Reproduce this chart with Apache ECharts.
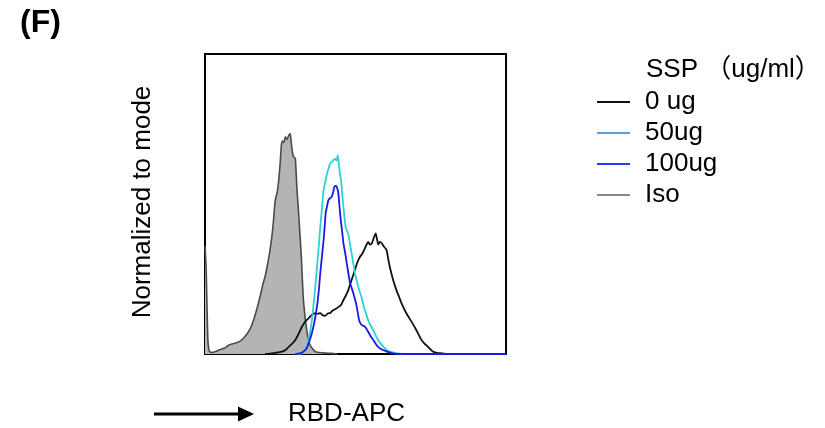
<!DOCTYPE html>
<html>
<head>
<meta charset="utf-8">
<script src="https://cdn.jsdelivr.net/npm/echarts@6/dist/echarts.min.js"></script>
<style>
html,body{margin:0;padding:0;background:#fff;}
#c{width:825px;height:428px;}
</style>
</head>
<body>
<div id="c"></div>
<script>
// ---- data (x: RBD-APC channel 0-100, y: % of mode) ----
const seriesNames = ['0 ug', '50ug', '100ug', 'Iso'];
const legendColors = ['#111111', '#5b9fe0', '#2b3cf2', '#8a8a8a'];
const lineColors = ['#111111', '#2fd0d4', '#1a1ae6', '#4a4a4a'];

const iso = [[0,36],[0.4,28],[0.9,6],[1.4,1],[2.2,0.5],[3.5,0.8],[5,1.5],[6.5,2],[8,3],[10,3.6],[11.5,4.2],[13,5.5],[14.5,7.5],[15.5,9.5],[16.5,12.5],[17.5,16],[18.5,20],[19.3,23.5],[20,26],[20.8,30],[21.5,34],[22.2,39],[22.8,45],[23.3,51],[24,54],[24.5,58],[25,64],[25.4,70],[25.8,71],[26.2,70.5],[26.7,72.4],[27.2,71.5],[27.7,72.6],[28.3,73.5],[28.7,70],[29.1,67],[29.4,65.8],[30,65.2],[30.5,55.8],[31.1,46.9],[32,32.4],[32.7,18],[33.8,8],[34.9,3],[36.6,0.8],[38,0.5],[40,0.3],[42,0.2],[44,0]];

const ug0 = [[20,0],[22.3,0.2],[24,0.5],[25.6,0.8],[27,1.5],[27.8,2.4],[29,3.5],[30,4.7],[31,6.5],[32.2,9.1],[33.3,10.8],[34.4,11.9],[35.5,13],[36.6,13.6],[37.5,13.4],[38.3,13.6],[39.1,12.9],[39.9,12.7],[40.8,13.5],[41.6,13.7],[42.4,14.5],[43.2,14.9],[44.5,15.8],[45.3,16.5],[46,18],[46.8,19.5],[47.6,21.3],[48.7,24.7],[49.8,28],[50.6,30.5],[51.5,32.4],[52.3,33.5],[53.1,35.2],[53.7,36.5],[54.2,37.4],[54.8,36.5],[55.4,36.8],[56.2,39.1],[56.7,40.2],[57.2,38],[57.6,36.5],[58.1,37.4],[58.7,37],[59.3,36],[60.3,34.7],[60.9,31.5],[61.4,29],[62.5,24.7],[63.6,21.3],[64.5,19],[65.3,16.9],[66.9,13.6],[68.6,10.8],[70.2,8],[71.9,4.7],[73,3.4],[74.1,2.4],[75.7,0.8],[77,0.4],[79,0.2],[80,0]];

const ug50 = [[30,0],[32.2,0.2],[33.3,1.5],[34.4,4.7],[35.2,9],[36,15.8],[36.6,22],[37.2,29],[37.8,36],[38.3,42.4],[38.9,49],[39.4,54.7],[40,57.5],[40.5,60],[41.1,62],[41.6,63.6],[42.2,64],[42.7,64.7],[43.3,65],[43.7,64.5],[44.1,66.3],[44.5,63],[44.8,60],[45.2,58],[45.6,53],[46,49],[46.4,45],[46.7,42.4],[47.2,41],[47.6,40],[48.2,36.5],[48.7,33.6],[49.3,30],[49.8,27],[50.4,24.5],[50.9,22.4],[51.5,20.5],[52,19],[52.6,16.5],[53.1,14.7],[53.7,12.8],[54.2,11.3],[55,9.5],[55.9,8],[56.7,6.2],[57.5,4.7],[58.6,3.2],[59.8,1.9],[61,1],[63,0.4],[65,0.1],[66,0],[100,0]];

const ug100 = [[30,0],[31.6,0.2],[32.7,0.8],[33.8,1.9],[34.6,4],[35.5,6.9],[36.4,11],[37.2,15.8],[37.8,21],[38.3,27],[38.9,33],[39.4,38],[39.8,43],[40.1,47],[40.6,49.5],[41,51.3],[41.6,52],[42.1,52.4],[42.6,54],[43,55.8],[43.6,56],[44,55],[44.3,53.6],[44.7,49],[45.1,44.7],[45.6,40.5],[46,36.9],[46.6,33.5],[47.1,30.2],[47.7,26.5],[48.2,23.6],[48.8,21.8],[49.3,20.2],[49.9,18],[50.4,15.8],[50.8,13.5],[51.2,11.3],[51.6,10.3],[52,9.7],[52.6,9.4],[53.1,9.1],[53.7,8.3],[54.2,7.4],[55,6],[55.9,4.7],[56.7,3.4],[57.5,2.4],[58.6,1.6],[59.8,1.1],[61,0.6],[62.5,0.2],[64,0],[100,0]];

const FONT = '"Liberation Sans", Arial, "Noto Sans CJK SC", sans-serif';

const chart = echarts.init(document.getElementById('c'), null, {renderer: 'canvas'});

function lineSeries(name, data, color, extra) {
  return Object.assign({
    name: name,
    type: 'line',
    data: data,
    showSymbol: false,
    symbol: 'none',
    smooth: 0.2,
    clip: true,
    lineStyle: {color: color, width: 1.8},
    itemStyle: {color: color},
    emphasis: {disabled: true},
    animation: false
  }, extra || {});
}

chart.setOption({
  animation: false,
  backgroundColor: '#ffffff',
  grid: {
    left: 205, top: 54, width: 301, height: 300,
    show: true, borderColor: '#000', borderWidth: 2, backgroundColor: 'transparent'
  },
  xAxis: {
    type: 'value', min: 0, max: 100,
    axisLine: {show: false}, axisTick: {show: false},
    axisLabel: {show: false}, splitLine: {show: false}
  },
  yAxis: {
    type: 'value', min: 0, max: 100,
    axisLine: {show: false}, axisTick: {show: false},
    axisLabel: {show: false}, splitLine: {show: false}
  },
  legend: {
    orient: 'vertical',
    left: 597, top: 86.5,
    padding: 0,
    itemWidth: 33, itemHeight: 2, itemGap: 0,
    icon: 'rect',
    selectedMode: false,
    textStyle: {fontSize: 26, lineHeight: 31, color: '#000', fontFamily: FONT, padding: [0, 0, 0, 10]},
    data: seriesNames.map((n, i) => ({name: n, itemStyle: {color: legendColors[i]}}))
  },
  series: [
    lineSeries(seriesNames[3], iso, lineColors[3], {
      areaStyle: {color: '#b4b4b4', opacity: 1},
      lineStyle: {color: lineColors[3], width: 1.6}
    }),
    lineSeries(seriesNames[0], ug0, lineColors[0]),
    lineSeries(seriesNames[1], ug50, lineColors[1]),
    lineSeries(seriesNames[2], ug100, lineColors[2])
  ],
  graphic: [
    {type: 'text', left: 20, top: 7, style: {text: '(F)', font: 'bold 32px ' + FONT, fill: '#000'}},
    {type: 'text', x: 143, y: 202, rotation: Math.PI / 2,
      style: {text: 'Normalized to mode', font: '26px ' + FONT, fill: '#000', align: 'center', verticalAlign: 'middle'}},
    {type: 'text', x: 646, y: 70,
      style: {text: 'SSP （ug/ml）', font: '26px ' + FONT, fill: '#000', align: 'left', verticalAlign: 'middle'}},
    {type: 'text', x: 288, y: 414,
      style: {text: 'RBD-APC', font: '26px ' + FONT, fill: '#000', align: 'left', verticalAlign: 'middle'}},
    {type: 'line', shape: {x1: 154, y1: 414, x2: 240, y2: 414}, style: {stroke: '#000', lineWidth: 3}},
    {type: 'polygon', shape: {points: [[238, 406.5], [254, 414], [238, 421.5]]}, style: {fill: '#000'}}
  ]
});
</script>
</body>
</html>
